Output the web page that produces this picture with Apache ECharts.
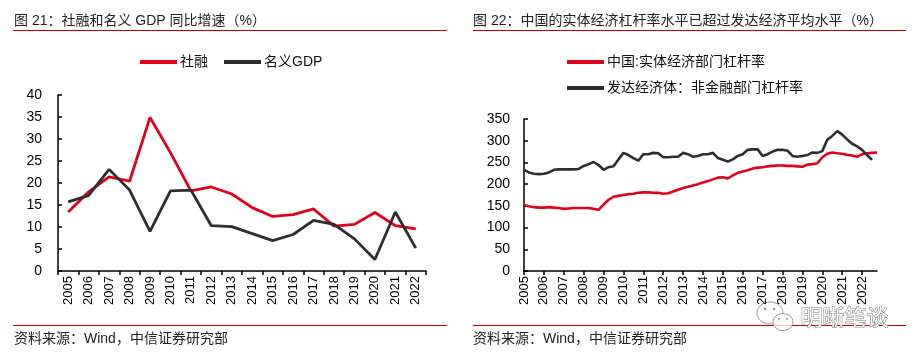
<!DOCTYPE html>
<html>
<head>
<meta charset="utf-8">
<script src="https://cdn.jsdelivr.net/npm/echarts@6/dist/echarts.min.js"></script>
<style>
html,body{margin:0;padding:0;background:#fff;}
#c{width:920px;height:362px;}
</style>
</head>
<body>
<div id="c"></div>
<script>
// ---- Left chart data ----
const yearsLeft = ['2005','2006','2007','2008','2009','2010','2011','2012','2013','2014','2015','2016','2017','2018','2019','2020','2021','2022'];
const tsfGrowth = [13.4,18.0,21.4,20.4,34.9,26.9,18.2,19.1,17.5,14.4,12.4,12.8,14.1,10.2,10.6,13.3,10.3,9.6];
const nominalGdp = [15.7,17.2,23.1,18.4,9.0,18.2,18.4,10.3,10.1,8.5,6.9,8.3,11.5,10.6,7.3,2.6,13.4,5.2];

// ---- Right chart data (quarterly 2005Q1 - 2022Q4) ----
const quarters = [];
for (let y = 2005; y <= 2022; y++) { for (let q = 1; q <= 4; q++) quarters.push(y + 'Q' + q); }
const chinaLeverage = [
  152,149,147,146,
  146,147,146,145,
  143,144,145,145,
  145,145,143,141,
  153,164,171,173,
  175,177,178,180,
  181,181,180,180,
  178,179,183,187,
  191,194,197,200,
  204,207,211,215,
  216,213,220,226,
  229,232,236,238,
  239,241,242,243,
  243,242,242,241,
  240,245,246,248,
  262,270,273,271,
  270,267,266,263,
  269,271,272,273
];
const advancedLeverage = [
  233,227,224,223,
  224,227,233,234,
  234,234,234,235,
  242,246,251,244,
  233,239,241,257,
  272,267,260,254,
  269,269,272,271,
  262,262,263,263,
  272,269,263,265,
  269,269,272,260,
  256,252,257,265,
  269,279,280,280,
  265,269,275,279,
  279,277,265,263,
  265,267,273,272,
  276,302,311,322,
  314,303,293,287,
  279,267,256,null
];

const leftTitle = '图 21：社融和名义 GDP 同比增速（%）';
const rightTitle = '图 22：中国的实体经济杠杆率水平已超过发达经济平均水平（%）';
const sourceText = '资料来源：Wind，中信证券研究部';

const FONT = "'Liberation Sans', 'Noto Sans CJK SC', sans-serif";
const RED = '#E0001B';
const BLACK = '#2E2E2E';

const chart = echarts.init(document.getElementById('c'), null, {renderer: 'canvas'});

function axisCommon() {
  return {
    axisLine: {show: true, lineStyle: {color: '#000', width: 1.5}},
    splitLine: {show: false}
  };
}

const option = {
  backgroundColor: '#fff',
  animation: false,
  textStyle: {fontFamily: FONT},
  legend: [
    {
      data: ['社融', '名义GDP'],
      left: 140, top: 55, padding: 0,
      icon: 'rect', itemWidth: 37, itemHeight: 4, itemGap: 16,
      textStyle: {fontSize: 14, color: '#111', fontFamily: FONT, padding: [0,0,0,-2]}
    },
    {
      data: ['中国:实体经济部门杠杆率', '发达经济体：非金融部门杠杆率'],
      left: 567, top: 55, padding: 0, orient: 'vertical',
      icon: 'rect', itemWidth: 37, itemHeight: 4, itemGap: 12,
      textStyle: {fontSize: 14, color: '#111', fontFamily: FONT, padding: [0,0,0,-2]}
    }
  ],
  grid: [
    {left: 58, top: 95, width: 368, height: 176},
    {left: 524, top: 119, width: 353, height: 152}
  ],
  xAxis: [
    Object.assign(axisCommon(), {
      type: 'category', gridIndex: 0, data: yearsLeft, boundaryGap: true,
      axisTick: {show: true, length: 4, lineStyle: {color: '#000', width: 1.5}},
      axisLabel: {rotate: 90, fontSize: 13, color: '#000', margin: 5, fontFamily: FONT, interval: 0}
    }),
    Object.assign(axisCommon(), {
      type: 'category', gridIndex: 1, data: quarters, boundaryGap: false,
      axisTick: {show: true, length: 4, interval: 3, lineStyle: {color: '#000', width: 1.5}},
      axisLabel: {rotate: 90, fontSize: 13, color: '#000', margin: 5, fontFamily: FONT, interval: 3,
        formatter: v => v.slice(0, 4)}
    })
  ],
  yAxis: [
    Object.assign(axisCommon(), {
      type: 'value', gridIndex: 0, min: 0, max: 40, interval: 5,
      axisTick: {show: true, inside: true, length: 4, lineStyle: {color: '#000', width: 1.5}},
      axisLabel: {fontSize: 14, color: '#000', margin: 16, fontFamily: FONT}
    }),
    Object.assign(axisCommon(), {
      type: 'value', gridIndex: 1, min: 0, max: 350, interval: 50,
      axisTick: {show: true, inside: true, length: 4, lineStyle: {color: '#000', width: 1.5}},
      axisLabel: {fontSize: 14, color: '#000', margin: 14, fontFamily: FONT}
    })
  ],
  series: [
    {name: '社融', type: 'line', xAxisIndex: 0, yAxisIndex: 0, data: tsfGrowth,
      symbol: 'none', color: RED, lineStyle: {width: 2.8, color: RED}},
    {name: '名义GDP', type: 'line', xAxisIndex: 0, yAxisIndex: 0, data: nominalGdp,
      symbol: 'none', color: BLACK, lineStyle: {width: 2.8, color: BLACK}},
    {name: '中国:实体经济部门杠杆率', type: 'line', xAxisIndex: 1, yAxisIndex: 1, data: chinaLeverage,
      symbol: 'none', color: RED, lineStyle: {width: 2.6, color: RED}},
    {name: '发达经济体：非金融部门杠杆率', type: 'line', xAxisIndex: 1, yAxisIndex: 1, data: advancedLeverage,
      symbol: 'none', color: BLACK, lineStyle: {width: 2.6, color: BLACK}, connectNulls: false}
  ],
  graphic: [
    {type: 'text', left: 14, top: 14, style: {text: leftTitle, font: '14px ' + FONT, fill: '#222'}},
    {type: 'text', left: 473, top: 14, style: {text: rightTitle, font: '14px ' + FONT, fill: '#222'}},
    {type: 'line', shape: {x1: 13, y1: 30.5, x2: 447, y2: 30.5}, style: {stroke: '#C00000', lineWidth: 1.2}},
    {type: 'line', shape: {x1: 473, y1: 30.5, x2: 906, y2: 30.5}, style: {stroke: '#C00000', lineWidth: 1.2}},
    {type: 'line', shape: {x1: 13, y1: 325.5, x2: 447, y2: 325.5}, style: {stroke: '#C00000', lineWidth: 1.2}},
    {type: 'line', shape: {x1: 473, y1: 325.5, x2: 906, y2: 325.5}, style: {stroke: '#C00000', lineWidth: 1.2}},
    {type: 'text', left: 14, top: 332, style: {text: sourceText, font: '14px ' + FONT, fill: '#222'}},
    {type: 'text', left: 473, top: 332, style: {text: sourceText, font: '14px ' + FONT, fill: '#222'}},
    // watermark
    {type: 'ellipse', shape: {cx: 770, cy: 313, rx: 13, ry: 11}, style: {fill: 'rgba(255,255,255,0.6)', stroke: '#999', lineWidth: 1}},
    {type: 'ellipse', shape: {cx: 783, cy: 322, rx: 10, ry: 8.5}, style: {fill: 'rgba(255,255,255,0.8)', stroke: '#999', lineWidth: 1}},
    {type: 'circle', shape: {cx: 765, cy: 309, r: 1.3}, style: {fill: '#999'}},
    {type: 'circle', shape: {cx: 774, cy: 309, r: 1.3}, style: {fill: '#999'}},
    {type: 'circle', shape: {cx: 779, cy: 319, r: 1}, style: {fill: '#999'}},
    {type: 'circle', shape: {cx: 787, cy: 319, r: 1}, style: {fill: '#999'}},
    {type: 'text', left: 800, top: 307, style: {text: '明晰笔谈', font: '22px ' + FONT, fill: '#fff', stroke: '#777', lineWidth: 1}}
  ]
};
chart.setOption(option);
</script>
</body>
</html>
